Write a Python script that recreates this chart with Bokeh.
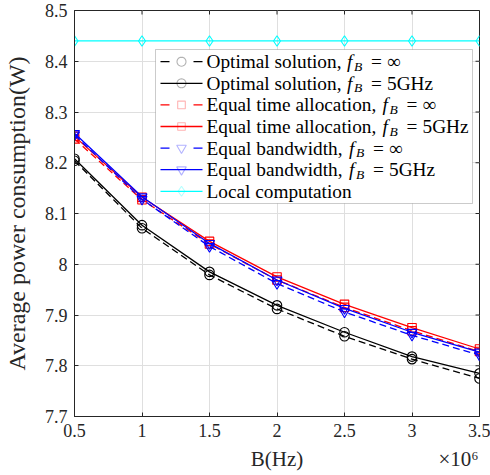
import math
from bokeh.plotting import figure
from bokeh.models import (Range1d, FixedTicker, LinearAxis, Label, BoxAnnotation,
                          PolyAnnotation, Arrow)
from bokeh.embed import file_html
from bokeh.resources import INLINE

# ---------------- data ----------------
bandwidth = [0.5, 1.0, 1.5, 2.0, 2.5, 3.0, 3.5]          # B (Hz) x 10^6
optimal_inf = [8.204, 8.071, 7.979, 7.912, 7.858, 7.813, 7.775]
optimal_5g = [8.208, 8.077, 7.985, 7.919, 7.866, 7.818, 7.785]
equal_time_inf = [8.247, 8.127, 8.040, 7.969, 7.915, 7.869, 7.828]
equal_time_5g = [8.252, 8.132, 8.045, 7.975, 7.921, 7.875, 7.833]
equal_bw_inf = [8.255, 8.128, 8.035, 7.962, 7.906, 7.860, 7.821]
equal_bw_5g = [8.258, 8.133, 8.041, 7.969, 7.913, 7.866, 7.827]
local_comp = [8.44, 8.44, 8.44, 8.44, 8.44, 8.44, 8.44]

x_ticks = [0.5, 1.0, 1.5, 2.0, 2.5, 3.0, 3.5]
x_tick_labels = ["0.5", "1", "1.5", "2", "2.5", "3", "3.5"]
y_ticks = [7.7, 7.8, 7.9, 8.0, 8.1, 8.2, 8.3, 8.4, 8.5]
y_tick_labels = ["7.7", "7.8", "7.9", "8", "8.1", "8.2", "8.3", "8.4", "8.5"]

x_title = "B(Hz)"
x_title_at = 2.0
x_exponent = "\u00d710\u2076"
x_exponent_at = 3.345
y_title = "Average power consumption(W)"
y_title_at = 8.1

legend_prefix = ["Optimal solution,", "Optimal solution,",
                 "Equal time allocation,", "Equal time allocation,",
                 "Equal bandwidth,", "Equal bandwidth,", "Local computation"]
legend_fb = ["\u221e", "5GHz", "\u221e", "5GHz", "\u221e", "5GHz", None]

series = [
    (optimal_inf, "black", "dashed", "circle"),
    (optimal_5g, "black", "solid", "circle"),
    (equal_time_inf, "#ff0000", "dashed", "square"),
    (equal_time_5g, "#ff0000", "solid", "square"),
    (equal_bw_inf, "#0000ff", "dashed", "inverted_triangle"),
    (equal_bw_5g, "#0000ff", "solid", "inverted_triangle"),
    (local_comp, "#00ffff", "solid", "diamond"),
]
marker_size = {"circle": 9.5, "square": 8.5, "inverted_triangle": 10, "diamond": 10.5}

FONT = "Liberation Serif"
AX = "#262626"

# ---------------- figure ----------------
FL, FB = 72, 416          # frame left / bottom (canvas px)
FW, FH = 407, 406         # frame size (px)
X0, X1, Y0, Y1 = 0.5, 3.5, 7.7, 8.5
p = figure(width=490, height=475, x_range=Range1d(X0, X1), y_range=Range1d(Y0, Y1),
           output_backend="svg", toolbar_location=None,
           min_border_left=72, min_border_right=11, min_border_top=10, min_border_bottom=59)
p.background_fill_color = "white"
p.border_fill_color = "white"
p.outline_line_color = AX
p.outline_line_width = 1

p.xaxis.ticker = FixedTicker(ticks=x_ticks)
p.yaxis.ticker = FixedTicker(ticks=y_ticks)
p.xaxis.major_label_overrides = dict(zip(x_ticks, x_tick_labels))
p.yaxis.major_label_overrides = dict(zip(y_ticks, y_tick_labels))
p.xgrid.ticker = FixedTicker(ticks=x_ticks)
p.ygrid.ticker = FixedTicker(ticks=y_ticks)
p.grid.grid_line_color = "#dfdfdf"
p.grid.grid_line_width = 1

for ax in (p.xaxis[0], p.yaxis[0]):
    ax.axis_line_color = AX
    ax.major_tick_line_color = AX
    ax.major_tick_in = 4
    ax.major_tick_out = 0
    ax.minor_tick_line_color = None
    ax.major_label_text_font = FONT
    ax.major_label_text_font_size = "18px"
    ax.major_label_text_color = AX
    ax.major_label_standoff = 7

# outer title rows (drawn as the single label of an extra, line-less axis)
x_title_ax = LinearAxis(ticker=FixedTicker(ticks=[x_title_at, x_exponent_at]),
                        major_label_overrides={x_title_at: x_title, x_exponent_at: x_exponent},
                        axis_line_color=None, major_tick_line_color=None,
                        minor_tick_line_color=None, major_tick_in=0, major_tick_out=0,
                        major_label_standoff=7, major_label_text_font=FONT,
                        major_label_text_font_size="21px", major_label_text_color=AX)
p.add_layout(x_title_ax, "below")

y_title_ax = LinearAxis(ticker=FixedTicker(ticks=[y_title_at]),
                        major_label_overrides={y_title_at: y_title},
                        major_label_orientation="vertical",
                        axis_line_color=None, major_tick_line_color=None,
                        minor_tick_line_color=None, major_tick_in=0, major_tick_out=0,
                        major_label_standoff=12, major_label_text_font=FONT,
                        major_label_text_font_size="24px", major_label_text_color=AX)
p.add_layout(y_title_ax, "left")

# inward ticks on top and right sides of the box
tick_dy = 4 * (Y1 - Y0) / FH
tick_dx = 4 * (X1 - X0) / FW
p.segment(x0=x_ticks, y0=[Y1] * len(x_ticks), x1=x_ticks, y1=[Y1 - tick_dy] * len(x_ticks),
          line_color=AX, line_width=1)
p.segment(x0=[X1] * len(y_ticks), y0=y_ticks, x1=[X1 - tick_dx] * len(y_ticks), y1=y_ticks,
          line_color=AX, line_width=1)

# ---------------- data glyphs ----------------
for vals, color, dash, marker in series:
    p.line(bandwidth, vals, line_color=color, line_width=1.3,
           line_dash=("7 4" if dash == "dashed" else "solid"))
    p.scatter(bandwidth, vals, marker=marker, size=marker_size[marker],
              line_color=color, fill_color=None, line_width=1.1)

# ---------------- legend ----------------
def sx(cx):
    return cx - FL

def sy(cy):
    return FB - cy

p.add_layout(BoxAnnotation(left=sx(153), right=sx(470), top=sy(49), bottom=sy(203),
                           left_units="screen", right_units="screen",
                           top_units="screen", bottom_units="screen",
                           fill_color="white", fill_alpha=1.0,
                           line_color=AX, line_width=0.8))

def marker_poly(kind, cx, cy):
    if kind == "circle":
        pts = [(cx + 4.5 * math.cos(2 * math.pi * k / 24), cy + 4.5 * math.sin(2 * math.pi * k / 24))
               for k in range(24)]
    elif kind == "square":
        h = 3.8
        pts = [(cx - h, cy - h), (cx + h, cy - h), (cx + h, cy + h), (cx - h, cy + h)]
    elif kind == "inverted_triangle":
        pts = [(cx - 4.8, cy + 2.8), (cx + 4.8, cy + 2.8), (cx, cy - 5.4)]
    else:
        pts = [(cx, cy + 5), (cx + 3.4, cy), (cx, cy - 5), (cx - 3.4, cy)]
    return [q[0] for q in pts], [q[1] for q in pts]

f_pos = [344.5, 344.5, 380, 380, 346.5, 346.5, None]
row0, row_step = 61.2, 21.6
for i, ((vals, color, dash, marker), prefix, fb) in enumerate(zip(series, legend_prefix, legend_fb)):
    cy = sy(row0 + row_step * i)
    segs = [(158, 167), (191, 200)] if dash == "dashed" else [(158, 200)]
    for a, b in segs:
        p.add_layout(Arrow(end=None, x_start=sx(a), y_start=cy, x_end=sx(b), y_end=cy,
                           start_units="screen", end_units="screen",
                           line_color=color, line_width=1.3))
    xs, ys = marker_poly(marker, sx(179), cy)
    p.add_layout(PolyAnnotation(xs=xs, ys=ys, xs_units="screen", ys_units="screen",
                                fill_color=None, fill_alpha=0, line_color=color, line_width=1.1))
    p.add_layout(Label(x=sx(204), y=cy, x_units="screen", y_units="screen", text=prefix,
                       text_font=FONT, text_font_size="19.3px", text_color="black",
                       text_baseline="middle", text_align="left"))
    if fb is not None:
        fx = f_pos[i]
        p.add_layout(Label(x=sx(fx), y=cy, x_units="screen", y_units="screen", text="f",
                           text_font=FONT, text_font_size="19.3px", text_font_style="italic",
                           text_color="black", text_baseline="middle", text_align="left"))
        p.add_layout(Label(x=sx(fx + 7), y=cy - 4.5, x_units="screen", y_units="screen", text="B",
                           text_font=FONT, text_font_size="13.5px", text_font_style="italic",
                           text_color="black", text_baseline="middle", text_align="left"))
        p.add_layout(Label(x=sx(fx + 24), y=cy, x_units="screen", y_units="screen", text="=",
                           text_font=FONT, text_font_size="19.3px",
                           text_color="black", text_baseline="middle", text_align="left"))
        p.add_layout(Label(x=sx(fx + 40), y=cy, x_units="screen", y_units="screen", text=fb,
                           text_font=FONT, text_font_size="19.3px",
                           text_color="black", text_baseline="middle", text_align="left"))

open("out.html", "w").write(file_html(p, INLINE))
